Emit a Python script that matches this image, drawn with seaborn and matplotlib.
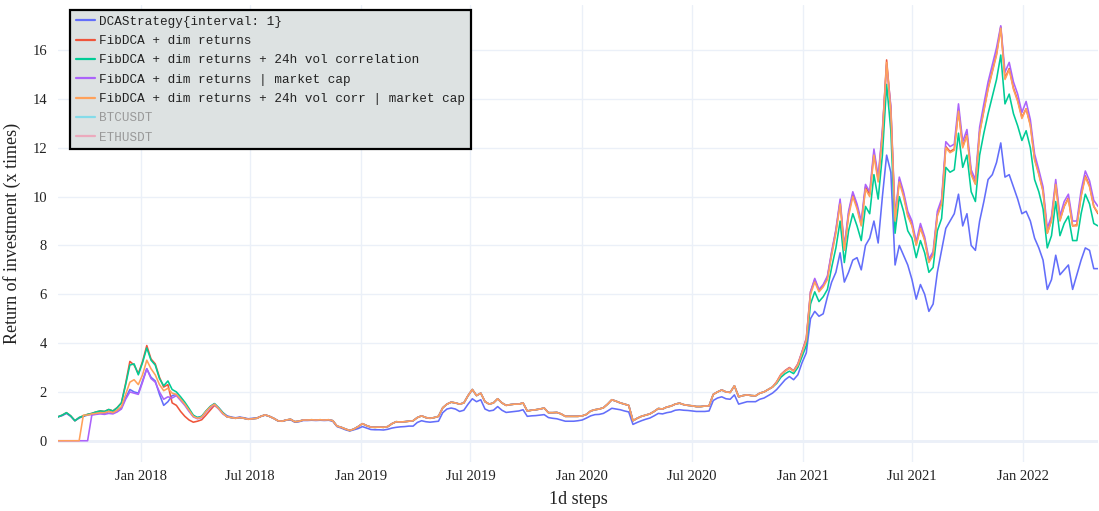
import pandas as pd
import matplotlib
matplotlib.use('Agg')
import matplotlib.pyplot as plt
import matplotlib.dates as mdates
import seaborn as sns

# weekly samples, 2017-08-17 .. 2022-05-04
dates = pd.date_range('2017-08-17', periods=247, freq='7D')

# DCA baseline (blue)
dca = [
    0.98, 1.03, 1.12, 1.0, 0.82, 0.93, 1.0, 1.05, 1.08, 1.12,
    1.15, 1.12, 1.2, 1.15, 1.25, 1.35, 1.75, 2.1, 2.0, 1.95,
    2.45, 2.95, 2.6, 2.45, 1.9, 1.45, 1.6, 1.85, 1.9, 1.7,
    1.5, 1.25, 1.0, 0.95, 1.0, 1.2, 1.4, 1.52, 1.35, 1.15,
    1.02, 0.97, 0.94, 0.97, 0.94, 0.9, 0.92, 0.93, 1.0, 1.05,
    1.0, 0.92, 0.82, 0.8, 0.84, 0.86, 0.76, 0.78, 0.83, 0.83,
    0.84, 0.83, 0.84, 0.83, 0.84, 0.8, 0.58, 0.52, 0.45, 0.4,
    0.45, 0.5, 0.58, 0.52, 0.46, 0.45, 0.45, 0.44, 0.47, 0.52,
    0.55, 0.57, 0.58, 0.6, 0.6, 0.75, 0.82, 0.78, 0.76, 0.78,
    0.8, 1.15, 1.3, 1.34, 1.3, 1.2, 1.25, 1.5, 1.72, 1.6,
    1.68, 1.3, 1.22, 1.25, 1.4, 1.25, 1.16, 1.18, 1.2, 1.22,
    1.27, 1.0, 1.02, 1.03, 1.05, 1.07, 0.95, 0.92, 0.9, 0.85,
    0.8, 0.8, 0.8, 0.82, 0.85, 0.93, 1.02, 1.07, 1.08, 1.12,
    1.22, 1.33, 1.3, 1.27, 1.22, 1.18, 0.67, 0.75, 0.82, 0.88,
    0.93, 1.02, 1.12, 1.1, 1.15, 1.18, 1.25, 1.27, 1.25, 1.24,
    1.22, 1.2, 1.2, 1.2, 1.22, 1.65, 1.75, 1.8, 1.72, 1.7,
    1.88, 1.5, 1.55, 1.6, 1.6, 1.6, 1.7, 1.75, 1.85, 1.95,
    2.1, 2.3, 2.5, 2.63, 2.5, 2.7, 3.2, 3.6, 5.0, 5.3,
    5.1, 5.2, 5.9, 6.5, 6.9, 7.7, 6.5, 6.9, 7.4, 7.5,
    7.0, 8.0, 8.3, 9.0, 8.1, 10.0, 11.7, 11.0, 7.2, 8.0,
    7.6, 7.2, 6.6, 5.8, 6.4, 6.0, 5.3, 5.6, 6.9, 7.8,
    8.7, 9.0, 9.3, 10.1, 8.8, 9.3, 8.0, 7.8, 9.0, 9.8,
    10.7, 10.9, 11.4, 12.2, 10.8, 10.9, 10.4, 9.9, 9.3, 9.4,
    9.0, 8.3, 7.9, 7.4, 6.2, 6.6, 7.6, 6.8, 7.0, 7.2,
    6.2, 6.8, 7.4, 7.9, 7.8, 7.05, 7.05,
]

# start of each FibDCA variant (Aug 2017 - May 2018)
fib_head = [
    0.98, 1.05, 1.15, 1.02, 0.82, 0.95, 1.02, 1.08, 1.12, 1.18,
    1.22, 1.2, 1.28, 1.22, 1.36, 1.55, 2.35, 3.25, 3.1, 2.75,
    3.25, 3.9, 3.35, 3.15, 2.6, 2.2, 2.3, 1.55, 1.45, 1.2,
    1.0, 0.85, 0.76, 0.8, 0.86, 1.05, 1.25, 1.45, 1.32, 1.12,
]
vol_head = [
    0.98, 1.05, 1.15, 1.02, 0.82, 0.95, 1.02, 1.08, 1.12, 1.18,
    1.22, 1.2, 1.28, 1.22, 1.35, 1.55, 2.3, 3.1, 3.15, 2.7,
    3.2, 3.8, 3.3, 3.1, 2.55, 2.25, 2.45, 2.1, 2.0, 1.8,
    1.58, 1.32, 1.05, 0.95, 1.0, 1.22, 1.4, 1.52, 1.35, 1.15,
]
mcap_head = [
    0, 0, 0, 0, 0, 0, 0, 0, 1.05, 1.08,
    1.1, 1.08, 1.12, 1.1, 1.18, 1.3, 1.7, 2.0, 1.95, 1.9,
    2.4, 2.95, 2.55, 2.4, 2.0, 1.7, 1.8, 1.75, 1.85, 1.65,
    1.45, 1.2, 0.98, 0.9, 0.95, 1.18, 1.35, 1.48, 1.3, 1.1,
]
volmcap_head = [
    0, 0, 0, 0, 0, 0, 1.05, 1.05, 1.1, 1.12,
    1.15, 1.15, 1.2, 1.15, 1.25, 1.4, 1.9, 2.4, 2.5, 2.3,
    2.7, 3.3, 2.95, 2.7, 2.3, 2.05, 2.15, 1.95, 1.9, 1.7,
    1.5, 1.25, 1.0, 0.92, 0.97, 1.2, 1.38, 1.5, 1.32, 1.12,
]

# May 2018 - Oct 2020: the four FibDCA lines lie on top of each other
fib_mid = [
    0.98, 0.95, 0.92, 0.95, 0.92, 0.88, 0.9, 0.92, 1.0, 1.06,
    1.0, 0.92, 0.82, 0.8, 0.85, 0.88, 0.78, 0.8, 0.85, 0.85,
    0.86, 0.85, 0.86, 0.85, 0.86, 0.82, 0.6, 0.55, 0.48, 0.42,
    0.48, 0.58, 0.7, 0.62, 0.56, 0.55, 0.56, 0.55, 0.58, 0.7,
    0.78, 0.77, 0.78, 0.8, 0.82, 0.95, 1.02, 0.95, 0.92, 0.95,
    1.0, 1.35, 1.5, 1.58, 1.55, 1.5, 1.55, 1.85, 2.1, 1.85,
    1.95, 1.6, 1.5, 1.55, 1.72, 1.55, 1.45, 1.48, 1.5, 1.5,
    1.55, 1.22, 1.25, 1.27, 1.3, 1.34, 1.15, 1.15, 1.16, 1.1,
    1.0, 1.0, 1.0, 1.0, 1.02, 1.08, 1.22, 1.27, 1.3, 1.35,
    1.5, 1.68, 1.62, 1.55, 1.5, 1.45, 0.82, 0.92, 1.0, 1.05,
    1.1, 1.2, 1.32, 1.3, 1.38, 1.42, 1.5, 1.54, 1.48, 1.45,
    1.43, 1.4, 1.4, 1.42, 1.43, 1.9, 2.0, 2.08, 2.0, 1.98,
    2.25, 1.8, 1.85, 1.88, 1.85, 1.84, 1.95, 2.0, 2.1, 2.2,
]

# Nov 2020 - May 2022
fib_tail = [
    2.42, 2.72, 2.88, 3.0, 2.87, 3.15, 3.65, 4.2, 6.1, 6.6,
    6.15, 6.35, 6.7, 7.7, 8.6, 9.8, 7.85, 9.3, 10.1, 9.6,
    8.85, 10.4, 10.1, 11.8, 10.7, 12.6, 15.6, 13.6, 9.05, 10.7,
    10.1, 9.25, 8.85, 8.05, 8.75, 8.25, 7.35, 7.65, 9.25, 9.75,
    12.05, 11.85, 11.95, 13.55, 12.05, 12.55, 10.95, 10.55, 12.65, 13.55,
    14.45, 15.15, 15.85, 16.95, 14.85, 15.25, 14.45, 13.95, 13.25, 13.6,
    12.95, 11.55, 10.95, 10.25, 8.5, 9.05, 10.55, 9.05, 9.6, 9.95,
    8.8, 8.85, 10.05, 10.85, 10.45, 9.6, 9.3,
]
vol_tail = [
    2.35, 2.6, 2.75, 2.85, 2.75, 3.0, 3.45, 3.9, 5.6, 6.1,
    5.7, 5.9, 6.2, 7.1, 7.9, 9.0, 7.3, 8.6, 9.3, 8.8,
    8.2, 9.6, 9.3, 10.9, 9.9, 11.7, 14.6, 12.7, 8.5, 10.0,
    9.4, 8.6, 8.3, 7.5, 8.2, 7.7, 6.9, 7.1, 8.6, 9.1,
    11.2, 11.0, 11.1, 12.6, 11.2, 11.7, 10.2, 9.8, 11.7, 12.6,
    13.4, 14.1, 14.8, 15.8, 13.8, 14.2, 13.4, 12.9, 12.3, 12.7,
    12.0, 10.7, 10.2, 9.5, 7.9, 8.4, 9.8, 8.4, 8.9, 9.2,
    8.2, 8.2, 9.3, 10.1, 9.7, 8.9, 8.8,
]
mcap_tail = [
    2.4, 2.7, 2.86, 2.98, 2.86, 3.12, 3.65, 4.15, 6.1, 6.65,
    6.2, 6.4, 6.75, 7.75, 8.65, 9.9, 7.95, 9.4, 10.2, 9.7,
    9.0, 10.5, 10.2, 11.95, 10.8, 12.75, 15.4, 13.7, 9.2, 10.8,
    10.2, 9.4, 9.0, 8.15, 8.9, 8.35, 7.45, 7.75, 9.4, 9.9,
    12.25, 12.05, 12.15, 13.8, 12.25, 12.75, 11.1, 10.7, 12.85, 13.8,
    14.7, 15.4, 16.1, 17.0, 15.1, 15.5, 14.7, 14.2, 13.45, 13.9,
    13.15, 11.75, 11.1, 10.4, 8.7, 9.2, 10.7, 9.2, 9.8, 10.1,
    9.0, 9.0, 10.25, 11.05, 10.65, 9.85, 9.6,
]
volmcap_tail = [
    2.4, 2.7, 2.85, 2.97, 2.85, 3.1, 3.6, 4.1, 6.0, 6.5,
    6.1, 6.3, 6.6, 7.6, 8.5, 9.7, 7.8, 9.2, 10.0, 9.5,
    8.8, 10.3, 10.0, 11.7, 10.6, 12.5, 15.5, 13.5, 9.0, 10.6,
    10.0, 9.2, 8.8, 8.0, 8.7, 8.2, 7.3, 7.6, 9.2, 9.7,
    12.0, 11.8, 11.9, 13.5, 12.0, 12.5, 10.9, 10.5, 12.6, 13.5,
    14.4, 15.1, 15.8, 16.9, 14.8, 15.2, 14.4, 13.9, 13.2, 13.6,
    12.9, 11.5, 10.9, 10.2, 8.5, 9.0, 10.5, 9.0, 9.6, 9.9,
    8.8, 8.8, 10.0, 10.8, 10.4, 9.6, 9.35,
]

series = [
    ('DCAStrategy{interval: 1}', dca, '#636EFA'),
    ('FibDCA + dim returns', fib_head + fib_mid + fib_tail, '#EF553B'),
    ('FibDCA + dim returns + 24h vol correlation', vol_head + fib_mid + vol_tail, '#00CC96'),
    ('FibDCA + dim returns | market cap', mcap_head + fib_mid + mcap_tail, '#AB63FA'),
    ('FibDCA + dim returns + 24h vol corr | market cap', volmcap_head + fib_mid + volmcap_tail, '#FFA15A'),
]
hidden = [('BTCUSDT', '#19D3F3'), ('ETHUSDT', '#FF6692')]

sns.set_theme(style='white')
plt.rcParams['font.family'] = ['Liberation Serif', 'DejaVu Serif']

fig, ax = plt.subplots(figsize=(10.99, 5.11), dpi=100)
fig.subplots_adjust(left=58/1099, right=1098/1099, top=1-5/511, bottom=1-461.5/511)

for name, vals, col in series:
    sns.lineplot(x=dates, y=vals, ax=ax, color=col, linewidth=1.15, label=name)
for name, col in hidden:
    ax.plot([], [], color=col, alpha=0.45, linewidth=1.15, label=name)

ax.grid(True, color='#EBF0F8', linewidth=1)
ax.axhline(0, color='#EBF0F8', linewidth=2, zorder=0)
ax.set_axisbelow(True)
for s in ax.spines.values():
    s.set_visible(False)

ax.set_xlim(dates[0], dates[-1])
ax.set_ylim(-0.85, 17.85)
ax.set_yticks(range(0, 17, 2))
ax.xaxis.set_major_locator(mdates.MonthLocator(bymonth=[1, 7]))
ax.xaxis.set_major_formatter(mdates.DateFormatter('%b %Y'))
ax.tick_params(length=0, labelsize=10.5, colors='#222222')
ax.tick_params(axis='x', pad=6)
ax.tick_params(axis='y', pad=8)
ax.set_xlabel('1d steps', fontsize=13, labelpad=6, color='#222222')
ax.set_ylabel('Return of investment (x times)', fontsize=13, labelpad=8, color='#222222')

leg = ax.legend(loc='upper left', bbox_to_anchor=(12/1040, 1-5/456.5), borderaxespad=0,
                frameon=True, fancybox=False, edgecolor='black', facecolor='#dde2e2',
                framealpha=1, handlelength=1.5, handletextpad=0.35, labelspacing=0.58,
                borderpad=0.45, prop={'family': 'Liberation Mono', 'size': 9.1})
leg.get_frame().set_linewidth(1.6)
for line in leg.get_lines():
    line.set_linewidth(1.6)
for t in leg.get_texts()[:5]:
    t.set_color('#222222')
for t in leg.get_texts()[5:]:
    t.set_color('#999999')

fig.savefig('out.png', dpi=100)
